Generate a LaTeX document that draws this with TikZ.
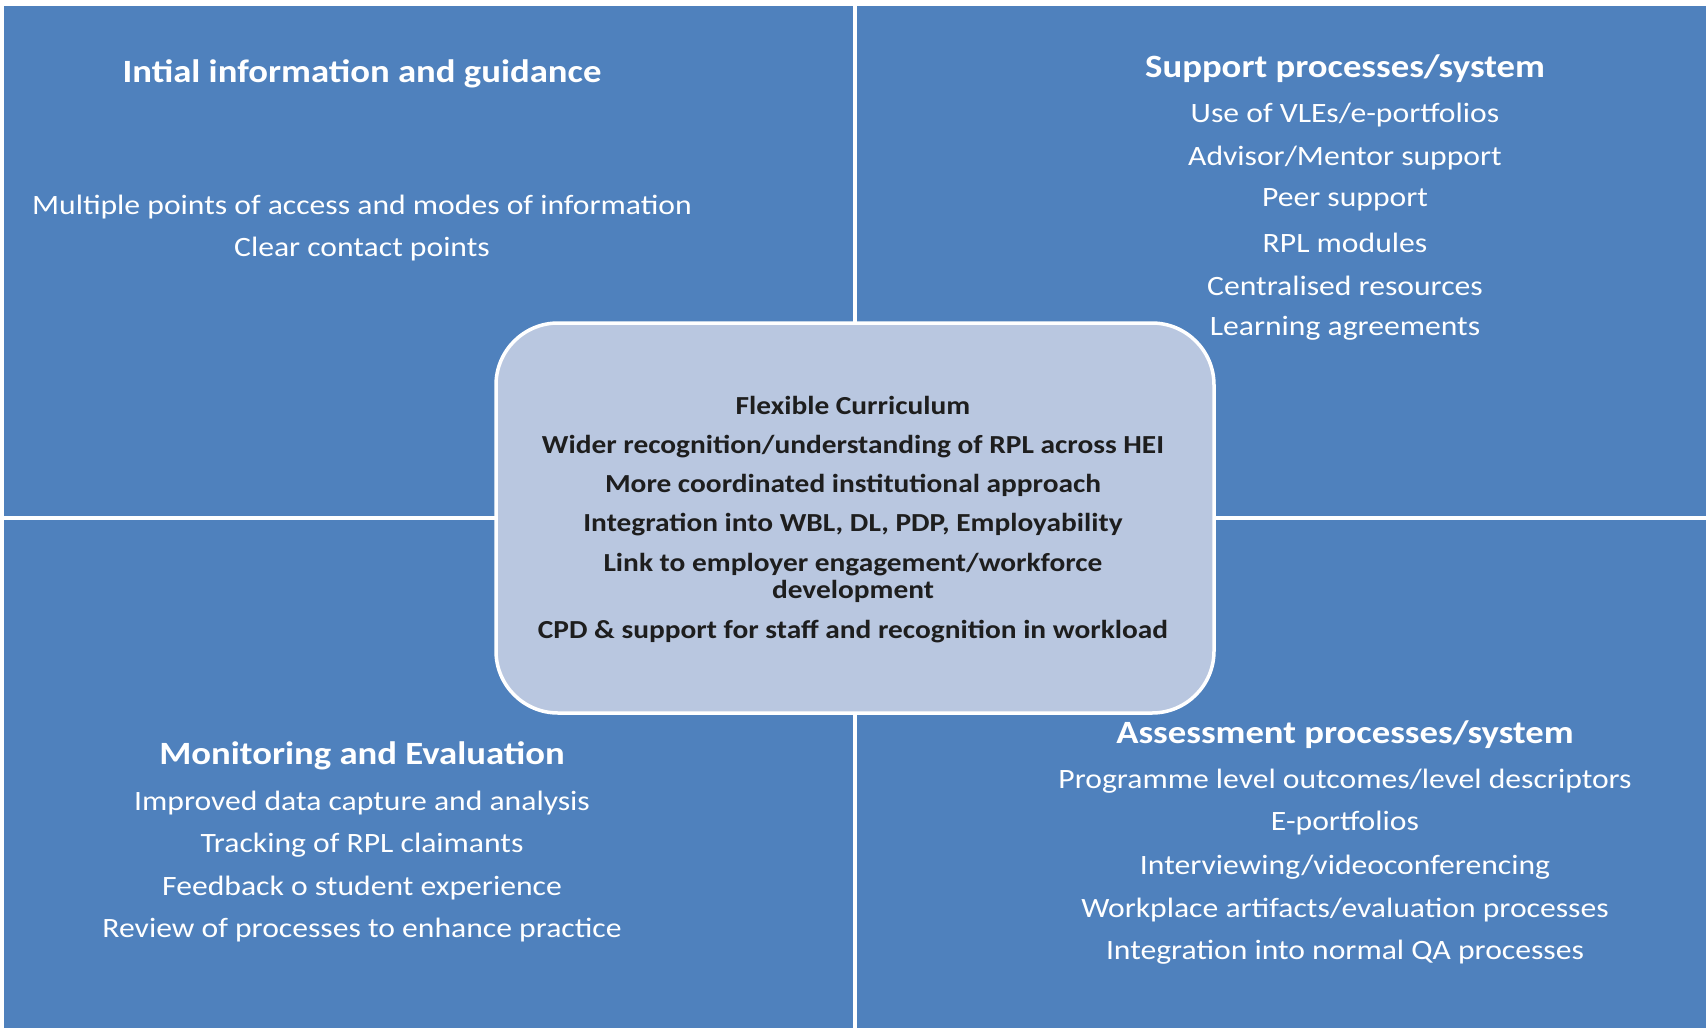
\documentclass[tikz,border=0pt]{standalone}
\usepackage{fontspec}
\setmainfont{Carlito}[FakeStretch=1.13]
\definecolor{quadblue}{RGB}{79,129,189}
\definecolor{centerfill}{RGB}{185,199,224}
\definecolor{darktext}{RGB}{30,30,30}
\begin{document}
\begin{tikzpicture}[x=1pt,y=-1pt,
  quad/.style={fill=quadblue,draw=none},
  qtitle/.style={text=white,font=\fontsize{32.5}{38}\selectfont\bfseries,anchor=center,inner sep=0pt},
  qitem/.style={text=white,font=\fontsize{28}{33}\selectfont,anchor=center,inner sep=0pt},
  citem/.style={text=darktext,font=\fontsize{26}{27}\selectfont\bfseries,anchor=center,inner sep=0pt,align=center}]
\useasboundingbox (0,0) rectangle (1706,1028);
\fill[white] (0,0) rectangle (1706,1028);
% quadrants
\path[quad] (4,6) rectangle (853,516);
\path[quad] (857,6) rectangle (1706,516);
\path[quad] (4,520) rectangle (853,1028);
\path[quad] (857,520) rectangle (1706,1028);
% centre box
\node[draw=white,line width=3.5pt,fill=centerfill,rounded corners=62pt,
      minimum width=718pt,minimum height=390pt,inner sep=0pt] (centre) at (855,518) {};
% top-left
\node[qtitle] (t1) at (362,74) {Intial information and guidance};
\node[qitem] (t1a) at (362,207) {Multiple points of access and modes of information};
\node[qitem] (t1b) at (362,249) {Clear contact points};
% top-right
\node[qtitle] (t2) at (1345,69) {Support processes/system};
\node[qitem] (t2a) at (1345,115) {Use of VLEs/e-portfolios};
\node[qitem] (t2b) at (1345,158) {Advisor/Mentor support};
\node[qitem] (t2c) at (1345,200) {Peer support};
\node[qitem] (t2d) at (1345,243) {RPL modules};
\node[qitem] (t2e) at (1345,286) {Centralised resources};
\node[qitem] (t2f) at (1345,328) {Learning agreements};
% bottom-left
\node[qtitle] (t3) at (362,756) {Monitoring and Evaluation};
\node[qitem] (t3a) at (362,803) {Improved data capture and analysis};
\node[qitem] (t3b) at (362,845) {Tracking of RPL claimants};
\node[qitem] (t3c) at (362,888) {Feedback o student experience};
\node[qitem] (t3d) at (362,930) {Review of processes to enhance practice};
% bottom-right
\node[qtitle] (t4) at (1345,735) {Assessment processes/system};
\node[qitem] (t4a) at (1345,781) {Programme level outcomes/level descriptors};
\node[qitem] (t4b) at (1345,823) {E-portfolios};
\node[qitem] (t4c) at (1345,867) {Interviewing/videoconferencing};
\node[qitem] (t4d) at (1345,910) {Workplace artifacts/evaluation processes};
\node[qitem] (t4e) at (1345,952) {Integration into normal QA processes};
% centre texts
\node[citem] (c1) at (853,405) {Flexible Curriculum};
\node[citem] (c2) at (853,447) {Wider recognition/understanding of RPL across HEI};
\node[citem] (c3) at (853,485) {More coordinated institutional approach};
\node[citem] (c4) at (853,525) {Integration into WBL, DL, PDP, Employability};
\node[citem] (c5) at (853,578) {Link to employer engagement/workforce\\development};
\node[citem] (c6) at (853,632) {CPD \& support for staff and recognition in workload};
\end{tikzpicture}
\end{document}
